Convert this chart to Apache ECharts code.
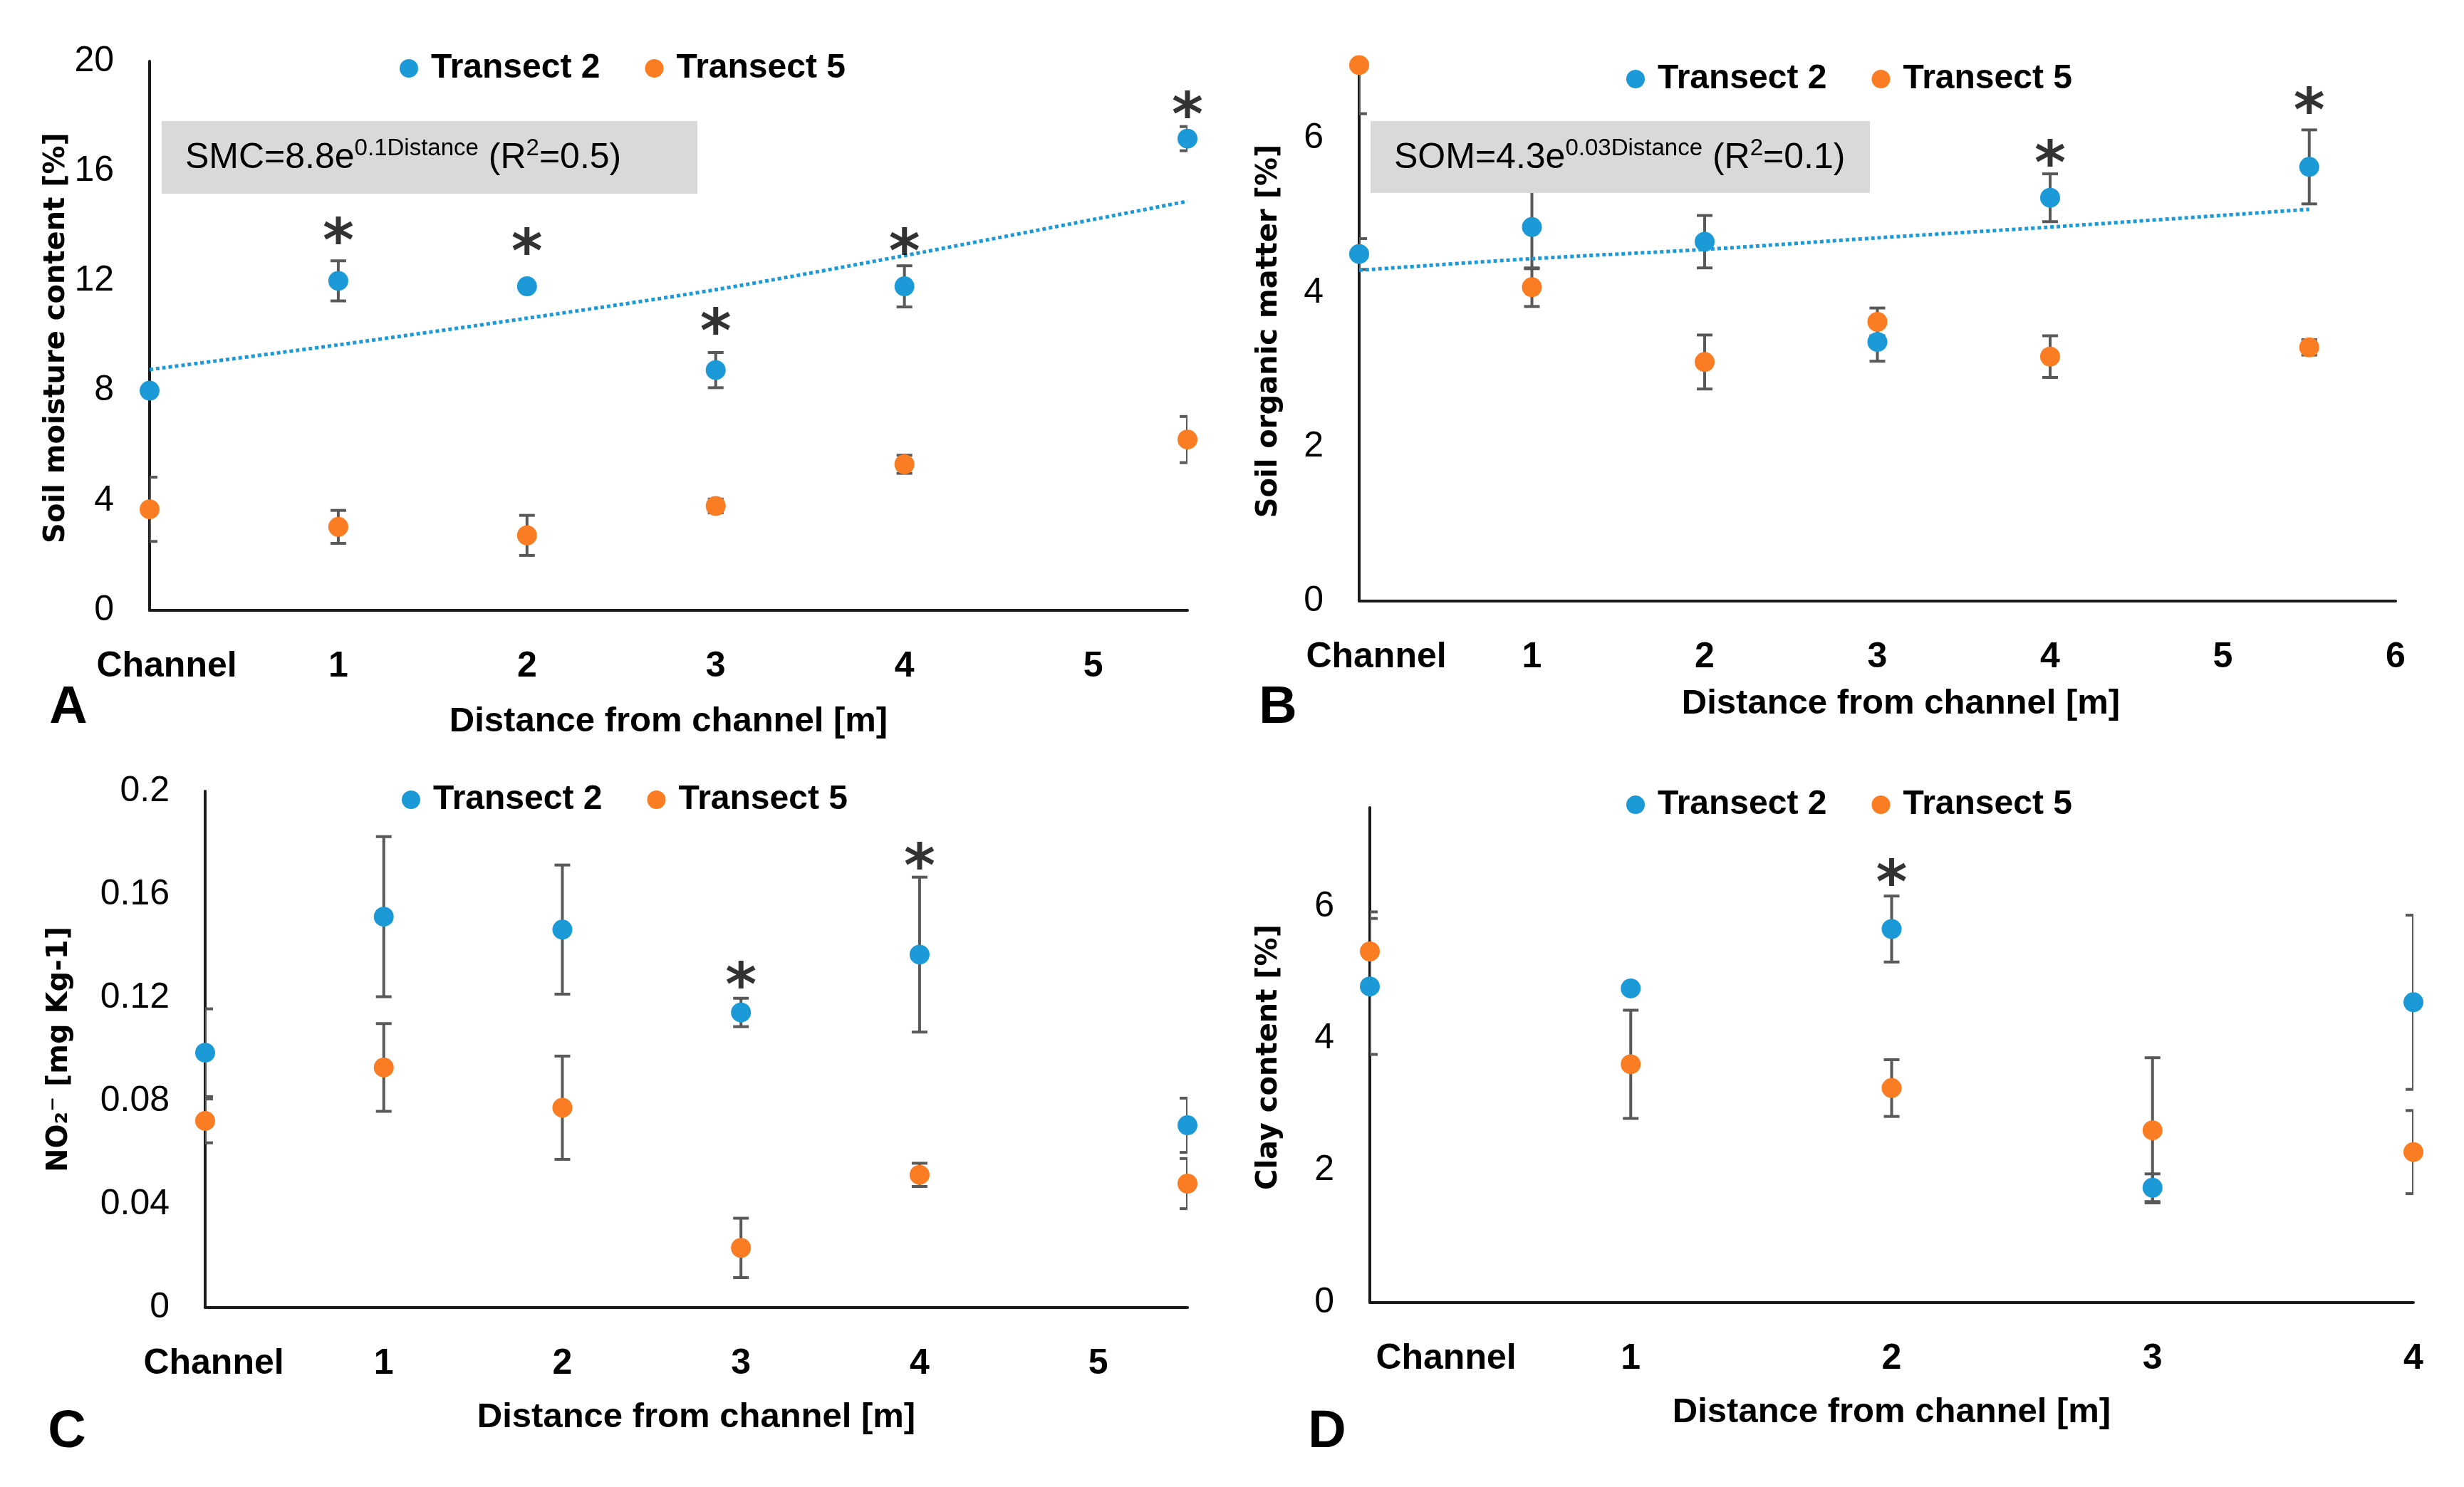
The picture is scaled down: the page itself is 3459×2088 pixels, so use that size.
<!DOCTYPE html>
<html><head><meta charset="utf-8">
<script src="https://cdn.jsdelivr.net/npm/echarts@6/dist/echarts.min.js"></script>
<style>html,body{margin:0;padding:0;background:#fff}#c{width:3459px;height:2088px}</style>
</head><body><div id="c"></div>
<script>
// ---------------- data ----------------
const xTickLabels = ['Channel', '1', '2', '3', '4', '5', '6'];
const seriesNames = ['Transect 2', 'Transect 5'];
const xTitle = 'Distance from channel [m]';

// Panel A: soil moisture content [%]   [distance, mean, error]
const smcT2 = [[0, 8.0, 0.1], [1, 12.0, 0.73], [2, 11.8, 0.15], [3, 8.75, 0.64], [4, 11.8, 0.75], [5.5, 17.18, 0.44]];
const smcT5 = [[0, 3.68, 1.17], [1, 3.04, 0.6], [2, 2.73, 0.73], [3, 3.8, 0.25], [4, 5.32, 0.33], [5.5, 6.22, 0.84]];
const smcTrend = [[0, 8.77], [1, 9.67], [2, 10.64], [3, 11.68], [4, 12.92], [5.5, 14.9]];
const smcStars = [[1, 13.8], [2, 13.4], [3, 10.5], [4, 13.4], [5.5, 18.4]];

// Panel B: soil organic matter [%]
const somT2 = [[0, 4.5, 0.2], [1, 4.85, 0.54], [2, 4.66, 0.34], [3, 3.36, 0.25], [4, 5.23, 0.31], [5.5, 5.63, 0.48]];
const somT5 = [[0, 6.95, 0.63], [1, 4.07, 0.25], [2, 3.1, 0.35], [3, 3.62, 0.18], [4, 3.17, 0.27], [5.5, 3.29, 0.1]];
const somTrend = [[0, 4.29], [1, 4.44], [2, 4.56], [3, 4.71], [4, 4.85], [5.5, 5.08]];
const somStars = [[4, 5.8], [5.5, 6.48]];

// Panel C: NO2- [mg Kg-1]
const no2T2 = [[0, 0.0987, 0.017], [1, 0.1514, 0.031], [2, 0.1464, 0.025], [3, 0.1143, 0.0055], [4, 0.1367, 0.030], [5.5, 0.0706, 0.0105]];
const no2T5 = [[0, 0.0723, 0.0085], [1, 0.093, 0.017], [2, 0.0774, 0.020], [3, 0.0231, 0.0115], [4, 0.0514, 0.0045], [5.5, 0.048, 0.0097]];
const no2Stars = [[3, 0.1286], [4, 0.1746]];

// Panel D: clay content [%]
const clayT2 = [[0, 4.79, 1.03], [1, 4.76, 0.05], [2, 5.66, 0.5], [3, 1.74, 0.21], [4, 4.55, 1.32]];
const clayT5 = [[0, 5.32, 0.6], [1, 3.61, 0.82], [2, 3.25, 0.43], [3, 2.61, 1.1], [4, 2.28, 0.63]];
const clayStars = [[2, 6.51]];

// ---------------- styling / layout ----------------
const BLUE = '#1c9ad8', ORANGE = '#fb7d23', ERR = '#595959', AX = '#1a1a1a';
const NARROW = "'Liberation Sans',Arial,sans-serif";
const WIDE = "'DejaVu Sans',Verdana,sans-serif";

const panels = [
  { grid: { left: 210, top: 86, width: 1457, height: 771 }, xMax: 5.5, yMax: 20, yInt: 4,
    yName: 'Soil moisture content [%]', yGap: 110, yPad: [0, 6, 0, 0], chanPad: 48, xNamePad: [0, 0, 0, 0], xNameGap: 132,
    t2: smcT2, t5: smcT5, trend: smcTrend, stars: smcStars, legend: { left: 561, top: 72 } },
  { grid: { left: 1908, top: 86, width: 1455, height: 758 }, xMax: 6, yMax: 7, yInt: 2,
    yName: 'Soil organic matter [%]', yGap: 106, yPad: [0, 0, 0, 0], chanPad: 48, xNamePad: [0, 0, 0, 66], xNameGap: 120,
    t2: somT2, t5: somT5, trend: somTrend, stars: somStars, legend: { left: 2283, top: 87 } },
  { grid: { left: 288, top: 1111, width: 1379, height: 725 }, xMax: 5.5, yMax: 0.2, yInt: 0.04,
    yName: 'NO\u2082\u207B [mg Kg-1]', yGap: 184, yPad: [0, 0, 0, 0], chanPad: 24, xNamePad: [0, 0, 0, 0], xNameGap: 130,
    t2: no2T2, t5: no2T5, trend: null, stars: no2Stars, legend: { left: 564, top: 1099 } },
  { grid: { left: 1923, top: 1134, width: 1465, height: 695 }, xMax: 4, yMax: 7.5, yInt: 2,
    yName: 'Clay content [%]', yGap: 121, yPad: [0, 6, 0, 0], chanPad: 214, xNamePad: [0, 0, 0, 0], xNameGap: 130,
    t2: clayT2, t5: clayT5, trend: null, stars: clayStars, legend: { left: 2283, top: 1106 } }
];

function errRender(params, api) {
  const x = api.value(0), y = api.value(1), e = api.value(2);
  const hi = api.coord([x, y + e]), lo = api.coord([x, y - e]);
  const w = 11;
  const st = { stroke: ERR, lineWidth: 4 };
  return { type: 'group', children: [
    { type: 'line', shape: { x1: hi[0], y1: hi[1], x2: lo[0], y2: lo[1] }, style: st },
    { type: 'line', shape: { x1: hi[0] - w, y1: hi[1], x2: hi[0] + w, y2: hi[1] }, style: st },
    { type: 'line', shape: { x1: lo[0] - w, y1: lo[1], x2: lo[0] + w, y2: lo[1] }, style: st }
  ]};
}

const grids = [], xAxes = [], yAxes = [], series = [], legends = [];
panels.forEach((p, i) => {
  grids.push(Object.assign({ containLabel: false }, p.grid));
  xAxes.push({
    type: 'value', gridIndex: i, min: 0, max: p.xMax, interval: 1,
    axisLine: { show: true, onZero: false, lineStyle: { color: AX, width: 4 } },
    axisTick: { show: false }, splitLine: { show: false },
    axisLabel: {
      margin: 54, fontFamily: NARROW, fontWeight: 'bold', fontSize: 50, color: '#000',
      showMaxLabel: Number.isInteger(p.xMax),
      formatter: v => v === 0 ? '{ch|' + xTickLabels[0] + '}' : (Number.isInteger(v) ? xTickLabels[v] : ''),
      rich: { ch: { padding: [0, 0, 0, p.chanPad], fontFamily: NARROW, fontWeight: 'bold', fontSize: 50, color: '#000' } }
    },
    name: xTitle, nameLocation: 'middle', nameGap: p.xNameGap,
    nameTextStyle: { fontFamily: NARROW, fontWeight: 'bold', fontSize: 49, color: '#000', padding: p.xNamePad }
  });
  yAxes.push({
    type: 'value', gridIndex: i, min: 0, max: p.yMax, interval: p.yInt,
    axisLine: { show: true, lineStyle: { color: AX, width: 4 } },
    axisTick: { show: false }, splitLine: { show: false },
    axisLabel: { margin: 50, fontFamily: NARROW, fontSize: 50, color: '#000',
      showMaxLabel: Math.abs(p.yMax / p.yInt - Math.round(p.yMax / p.yInt)) < 1e-9 },
    name: p.yName, nameLocation: 'middle', nameGap: p.yGap, nameRotate: 90,
    nameTextStyle: { fontFamily: WIDE, fontWeight: 'bold', fontSize: 40, color: '#000', padding: p.yPad }
  });
  [[p.t2, BLUE, seriesNames[0]], [p.t5, ORANGE, seriesNames[1]]].forEach(([d, col, nm]) => {
    series.push({ type: 'custom', name: nm + ' error', xAxisIndex: i, yAxisIndex: i, clip: true, z: 2,
      renderItem: errRender, data: d, silent: true });
  });
  [[p.t2, BLUE, seriesNames[0]], [p.t5, ORANGE, seriesNames[1]]].forEach(([d, col, nm]) => {
    series.push({ type: 'scatter', name: nm, xAxisIndex: i, yAxisIndex: i, clip: false, z: 3,
      symbol: 'circle', symbolSize: 28, itemStyle: { color: col, opacity: 1 },
      data: d.map(r => [r[0], r[1]]) });
  });
  if (p.trend) {
    series.push({ type: 'line', name: 'trend', xAxisIndex: i, yAxisIndex: i, z: 4, smooth: 0.3,
      symbol: 'none', lineStyle: { color: BLUE, width: 5, type: [5, 4] }, data: p.trend, silent: true });
  }
  series.push({ type: 'scatter', name: 'significance', xAxisIndex: i, yAxisIndex: i, clip: false, z: 5,
    symbol: 'circle', symbolSize: 1, itemStyle: { color: 'rgba(0,0,0,0)' }, silent: true,
    label: { show: true, position: 'inside', formatter: '*', fontFamily: WIDE, fontWeight: 'bold',
      fontSize: 84, color: '#000', offset: [0, 19] },
    data: p.stars });
  legends.push({
    data: seriesNames, left: p.legend.left, top: p.legend.top, orient: 'horizontal', padding: 0,
    icon: 'circle', itemWidth: 26, itemHeight: 26, itemGap: 63, selectedMode: false,
    textStyle: { fontFamily: NARROW, fontWeight: 'bold', fontSize: 48, color: '#000', padding: [0, 0, 0, 13] }
  });
});

const eqRich = {
  a: { fontFamily: NARROW, fontSize: 50, lineHeight: 60, color: '#000' },
  s: { fontFamily: NARROW, fontSize: 33, lineHeight: 33, verticalAlign: 'top', color: '#000' }
};
function letter(txt, x, y) {
  return { type: 'text', x: x, y: y, z: 20,
    style: { text: txt, fontFamily: "'Liberation Sans',Arial,sans-serif", fontWeight: 'bold', fontSize: 74,
      fill: '#000', align: 'center', verticalAlign: 'middle' } };
}
const graphics = [
  { type: 'rect', z: 10, shape: { x: 227, y: 170, width: 752, height: 102 }, style: { fill: '#d9d9d9' } },
  { type: 'text', z: 11, x: 260, y: 222, style: { text: '{a|SMC=8.8e}{s|0.1Distance}{a| (R}{s|2}{a|=0.5)}',
      rich: eqRich, verticalAlign: 'middle', align: 'left' } },
  { type: 'rect', z: 10, shape: { x: 1924, y: 170, width: 701, height: 101 }, style: { fill: '#d9d9d9' } },
  { type: 'text', z: 11, x: 1957, y: 222, style: { text: '{a|SOM=4.3e}{s|0.03Distance}{a| (R}{s|2}{a|=0.1)}',
      rich: eqRich, verticalAlign: 'middle', align: 'left' } },
  letter('A', 96, 995), letter('B', 1794, 995), letter('C', 94, 2012), letter('D', 1863, 2012)
];

const chart = echarts.init(document.getElementById('c'), null, { renderer: 'canvas' });
chart.setOption({
  animation: false, backgroundColor: '#fff',
  grid: grids, xAxis: xAxes, yAxis: yAxes, series: series, legend: legends, graphic: graphics
});
</script></body></html>
